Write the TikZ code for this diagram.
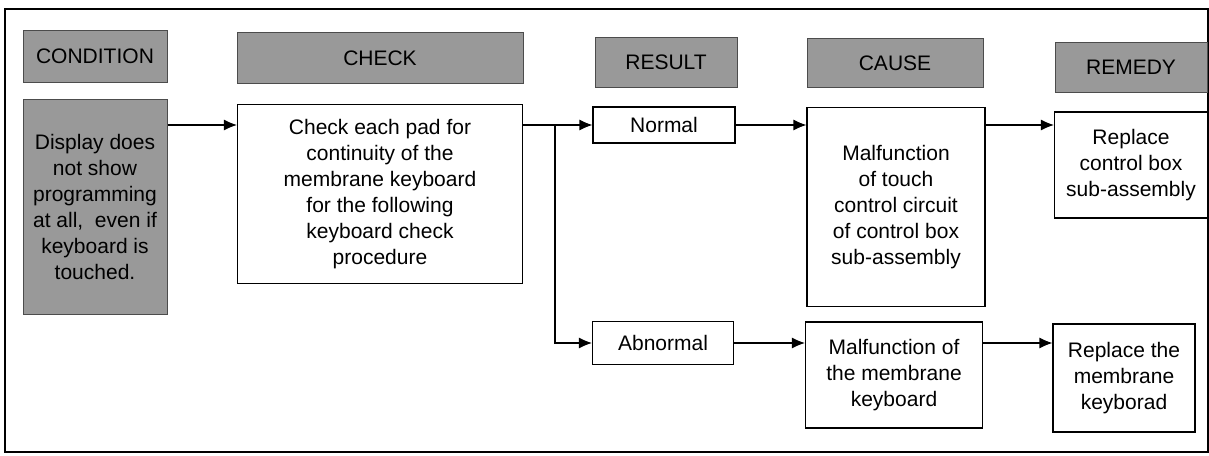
\documentclass[tikz,border=0pt]{standalone}
\usepackage{fontspec}
\setmainfont{Liberation Sans}
\usetikzlibrary{arrows.meta}

\begin{document}
\begin{tikzpicture}[x=1pt,y=-1pt,
        font=\fontsize{21}{26}\selectfont,
        head/.style={fill=black!40,draw=black!70,line width=1pt,inner sep=0pt,align=center},
        box/.style={draw,line width=1.1pt,fill=white,inner sep=0pt,align=center},
        arr/.style={line width=1.1pt,-{Latex[length=13pt,width=11pt]}}]
        \useasboundingbox (0,0) rectangle (1209,455);
        \draw[line width=1.4pt] (5,9) rectangle (1208,452);

        % Column heads
        \node[head,minimum width=144,minimum height=52] (hcond) at (95,56) {CONDITION};
        \node[head,minimum width=286,minimum height=51] (hcheck) at (380,58) {CHECK};
        \node[head,minimum width=142,minimum height=50] (hresult) at (666,62) {RESULT};
        \node[head,minimum width=176,minimum height=49] (hcause) at (895,63) {CAUSE};
        \node[head,minimum width=152,minimum height=50] (hremedy) at (1131,67) {REMEDY};

        % Condition and check
        \node[head,minimum width=144,minimum height=215] (cond) at (95,207)
            {Display does\\not show\\programming\\at all,~ even if\\keyboard is\\touched.};
        \node[box,minimum width=285,minimum height=179] (check) at (380,194)
            {Check each pad for\\continuity of the\\membrane keyboard\\for the following\\keyboard check\\procedure};

        % Results
        \node[box,minimum width=142,minimum height=36] (normal) at (664,125) {Normal};
        \node[box,minimum width=141,minimum height=43] (abnormal) at (663,343) {Abnormal};

        % Causes
        \node[box,minimum width=178,minimum height=199] (cause1) at (896,207)
            {Malfunction\\of touch\\control circuit\\of control box\\sub-assembly};
        \node[box,minimum width=177,minimum height=106] (cause2) at (894,375)
            {Malfunction of\\the membrane\\keyboard};

        % Remedies
        \node[box,minimum width=153,minimum height=106] (remedy1) at (1131,165)
            {Replace\\control box\\sub-assembly};
        \node[box,minimum width=142,minimum height=108] (remedy2) at (1124,378)
            {Replace the\\membrane\\keyborad};

        % Arrows
        \coordinate (split) at (555,125);
        \draw[arr] (cond.east |- normal) -- (check.west |- normal);
        \draw[arr] (check.east |- normal) -- (normal.west);
        \draw[arr] (split) |- (abnormal.west);
        \draw[arr] (normal.east) -- (cause1.west |- normal);
        \draw[arr] (abnormal.east) -- (cause2.west |- abnormal);
        \draw[arr] (cause1.east |- normal) -- (remedy1.west |- normal);
        \draw[arr] (cause2.east |- abnormal) -- (remedy2.west |- abnormal);
    \end{tikzpicture}
\end{document}
